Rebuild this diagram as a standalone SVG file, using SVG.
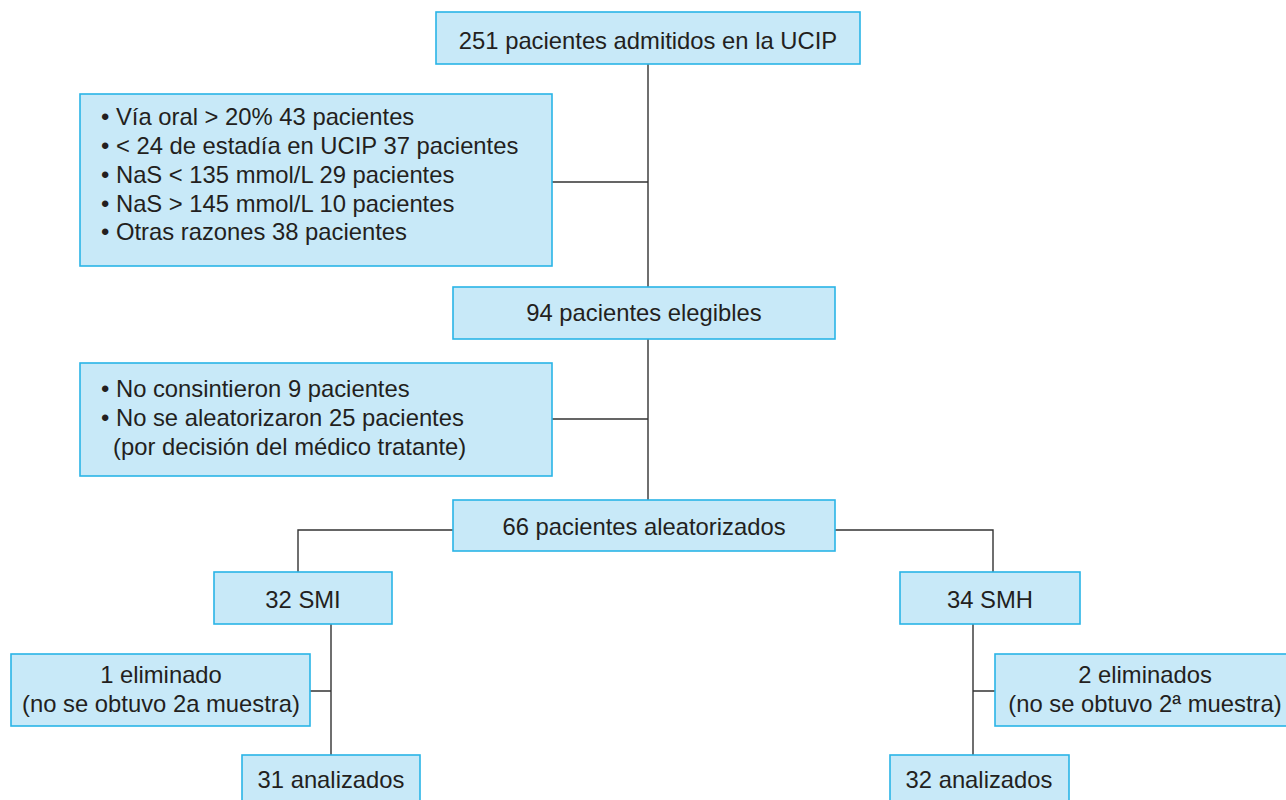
<svg xmlns="http://www.w3.org/2000/svg" width="1286" height="800" viewBox="0 0 1286 800">
<style>
.box{fill:#c8e9f8;stroke:#2ab4e6;stroke-width:1.6}
.t{font-family:"Liberation Sans",Arial,sans-serif;font-size:23.8px;fill:#231f20}
.c{text-anchor:middle}
.ln{stroke:#333;stroke-width:1.4;fill:none}
</style>
<rect width="1286" height="800" fill="#fff"/>
<g id="connectors">
<path class="ln" d="M648,64V287M552,182H648M648,339V500M552,419H648"/>
<path class="ln" d="M453,530H298V572M835,530H993V572"/>
<path class="ln" d="M331,624V755M310,691H331"/>
<path class="ln" d="M973,624V755M973,691H995"/>
</g>
<g id="n1"><rect class="box" x="436" y="12" width="424" height="52"/><text class="t c" x="648" y="49">251 pacientes admitidos en la UCIP</text></g>
<g id="n2"><rect class="box" x="80" y="94" width="472" height="172"/>
<text class="t" x="101" y="125">• Vía oral &gt; 20% 43 pacientes</text>
<text class="t" x="101" y="154">• &lt; 24 de estadía en UCIP 37 pacientes</text>
<text class="t" x="101" y="183">• NaS &lt; 135 mmol/L 29 pacientes</text>
<text class="t" x="101" y="212">• NaS &gt; 145 mmol/L 10 pacientes</text>
<text class="t" x="101" y="240">• Otras razones 38 pacientes</text></g>
<g id="n3"><rect class="box" x="453" y="287" width="382" height="52"/><text class="t c" x="644" y="321">94 pacientes elegibles</text></g>
<g id="n4"><rect class="box" x="80" y="363" width="472" height="113"/>
<text class="t" x="101" y="397">• No consintieron 9 pacientes</text>
<text class="t" x="101" y="426">• No se aleatorizaron 25 pacientes</text>
<text class="t" x="113" y="455">(por decisión del médico tratante)</text></g>
<g id="n5"><rect class="box" x="453" y="500" width="382" height="51"/><text class="t c" x="644" y="535">66 pacientes aleatorizados</text></g>
<g id="n6"><rect class="box" x="214" y="572" width="178" height="52"/><text class="t c" x="303" y="608">32 SMI</text></g>
<g id="n7"><rect class="box" x="900" y="572" width="180" height="52"/><text class="t c" x="990" y="608">34 SMH</text></g>
<g id="n8"><rect class="box" x="11" y="654" width="299" height="72"/>
<text class="t c" x="161" y="683">1 eliminado</text>
<text class="t c" x="161" y="712">(no se obtuvo 2a muestra)</text></g>
<g id="n9"><rect class="box" x="995" y="654" width="292" height="72"/>
<text class="t c" x="1145" y="683">2 eliminados</text>
<text class="t c" x="1145" y="712">(no se obtuvo 2ª muestra)</text></g>
<g id="n10"><rect class="box" x="242" y="755" width="178" height="60"/><text class="t c" x="331" y="788">31 analizados</text></g>
<g id="n11"><rect class="box" x="890" y="755" width="179" height="60"/><text class="t c" x="979" y="788">32 analizados</text></g>
</svg>
